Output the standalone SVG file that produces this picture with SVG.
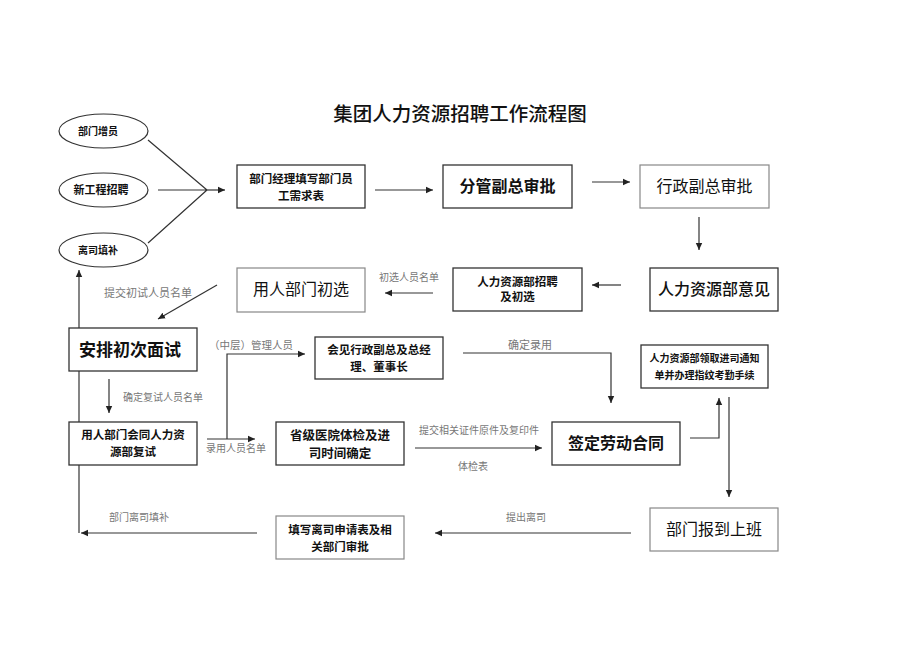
<svg xmlns="http://www.w3.org/2000/svg" width="920" height="651" viewBox="0 0 920 651">
<style>
text{font-family:"Noto Sans CJK SC","Liberation Sans",sans-serif;text-anchor:middle;fill:#111}
.title{font-size:19.5px;font-weight:500}
.big{font-size:16px}
.sm{font-size:11.5px;font-weight:bold}
.xs{font-size:10px;font-weight:bold}
.lbl{font-size:10px;fill:#777}
.box{fill:#fff;stroke:#333;stroke-width:1.3}
.lite{fill:#fff;stroke:#888;stroke-width:1.2}
.ell{fill:#fff;stroke:#333;stroke-width:1.2}
.c{fill:none;stroke:#333;stroke-width:1.2}
</style>
<defs>
<marker id="ah" markerWidth="8" markerHeight="8" refX="7" refY="4" orient="auto" markerUnits="userSpaceOnUse">
<path d="M0,0.8 L7,4 L0,7.2 Z" fill="#222"/>
</marker>
</defs>
<rect width="920" height="651" fill="#fff"/>
<text class="title" x="460" y="121">集团人力资源招聘工作流程图</text>

<g id="connectors">
<path class="c" d="M148,140 L207,190 M158,190 L207,190 M148,243 L207,190"/>
<path class="c" d="M207,190 L225,190" marker-end="url(#ah)"/>
<path class="c" d="M375,190 L433,190" marker-end="url(#ah)"/>
<path class="c" d="M592,182 L630,182" marker-end="url(#ah)"/>
<path class="c" d="M699,217 L699,250" marker-end="url(#ah)"/>
<path class="c" d="M621,285 L592,285" marker-end="url(#ah)"/>
<path class="c" d="M433,293 L385,293" marker-end="url(#ah)"/>
<path class="c" d="M217,285 L158,319" marker-end="url(#ah)"/>
<path class="c" d="M79,533 L79,270" marker-end="url(#ah)"/>
<path class="c" d="M109,379 L109,413" marker-end="url(#ah)"/>
<path class="c" d="M207,439 L255,439" marker-end="url(#ah)"/>
<path class="c" d="M227,439 L227,354 L305,354" marker-end="url(#ah)"/>
<path class="c" d="M463,353 L611,353 L611,403" marker-end="url(#ah)"/>
<path class="c" d="M415,448 L542,448" marker-end="url(#ah)"/>
<path class="c" d="M690,438 L719,438 L719,398" marker-end="url(#ah)"/>
<path class="c" d="M729,397 L729,497" marker-end="url(#ah)"/>
<path class="c" d="M631,533 L435,533" marker-end="url(#ah)"/>
<path class="c" d="M257,533 L81,533" marker-end="url(#ah)"/>
<text class="lbl" x="148" y="297" style="font-size:11px">提交初试人员名单</text>
<text class="lbl" x="409" y="281">初选人员名单</text>
<text class="lbl" x="123" y="401" style="text-anchor:start">确定复试人员名单</text>
<text class="lbl" x="236" y="452">录用人员名单</text>
<text class="lbl" x="251" y="349" style="font-size:10.5px">（中层）管理人员</text>
<text class="lbl" x="530" y="349" style="font-size:11px">确定录用</text>
<text class="lbl" x="479" y="434">提交相关证件原件及复印件</text>
<text class="lbl" x="473" y="470">体检表</text>
<text class="lbl" x="139" y="521">部门离司填补</text>
<text class="lbl" x="526" y="521">提出离司</text>
</g>

<g id="n-zengyuan">
<ellipse class="ell" cx="103.5" cy="131" rx="44.5" ry="17"/>
<text class="xs" x="98" y="135">部门增员</text>
</g>
<g id="n-xingongcheng">
<ellipse class="ell" cx="103.5" cy="190" rx="44.5" ry="17"/>
<text class="xs" x="101" y="194" style="font-size:11px">新工程招聘</text>
</g>
<g id="n-lisi">
<ellipse class="ell" cx="103.5" cy="250" rx="44.5" ry="17"/>
<text class="xs" x="98" y="254">离司填补</text>
</g>

<g id="n-xuqiu">
<rect class="box" x="237" y="165" width="128" height="43"/>
<text class="sm" x="301" y="183">部门经理填写部门员</text>
<text class="sm" x="301" y="200">工需求表</text>
</g>
<g id="n-fenguan">
<rect class="box" x="443" y="165" width="129" height="43"/>
<text class="big" x="507.5" y="192" style="font-weight:bold">分管副总审批</text>
</g>
<g id="n-xingzheng">
<rect class="lite" x="640" y="165" width="129" height="43"/>
<text class="big" x="704.5" y="192">行政副总审批</text>
</g>
<g id="n-yijian">
<rect class="box" x="650" y="268" width="128" height="43"/>
<text class="big" x="714" y="295" style="font-weight:500">人力资源部意见</text>
</g>
<g id="n-zhaopin">
<rect class="box" x="453" y="268" width="129" height="43"/>
<text class="sm" x="517.5" y="286">人力资源部招聘</text>
<text class="sm" x="517.5" y="301">及初选</text>
</g>
<g id="n-chuxuan">
<rect class="lite" x="237" y="268" width="128" height="44"/>
<text class="big" x="301" y="295">用人部门初选</text>
</g>
<g id="n-mianshi">
<rect class="box" x="69" y="328" width="128" height="43"/>
<text class="big" x="130" y="356" style="font-size:17px;font-weight:bold">安排初次面试</text>
</g>
<g id="n-fushi">
<rect class="box" x="69" y="422" width="128" height="43"/>
<text class="sm" x="133" y="439">用人部门会同人力资</text>
<text class="sm" x="133" y="456">源部复试</text>
</g>
<g id="n-huijian">
<rect class="box" x="315" y="337" width="128" height="42"/>
<text class="sm" x="379" y="354">会见行政副总及总经</text>
<text class="sm" x="379" y="371">理、董事长</text>
</g>
<g id="n-tijian">
<rect class="box" x="276" y="422" width="128" height="43"/>
<text class="sm" x="340" y="440" style="font-size:12.5px">省级医院体检及进</text>
<text class="sm" x="340" y="457.5" style="font-size:12.5px">司时间确定</text>
</g>
<g id="n-hetong">
<rect class="box" x="552" y="422" width="128" height="43"/>
<text class="big" x="616" y="449" style="font-weight:bold">签定劳动合同</text>
</g>
<g id="n-tongzhi">
<rect class="box" x="641" y="345" width="127" height="43"/>
<text class="xs" x="704.5" y="362">人力资源部领取进司通知</text>
<text class="xs" x="704.5" y="379">单并办理指纹考勤手续</text>
</g>
<g id="n-baodao">
<rect class="lite" x="650" y="508" width="128" height="43"/>
<text class="big" x="714" y="535">部门报到上班</text>
</g>
<g id="n-lisishenqing">
<rect class="lite" x="276" y="516" width="128" height="43"/>
<text class="sm" x="340" y="534">填写离司申请表及相</text>
<text class="sm" x="340" y="551">关部门审批</text>
</g>
</svg>
